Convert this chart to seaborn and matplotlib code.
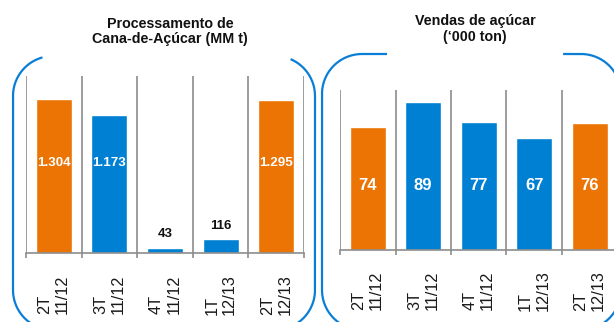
import numpy as np
import matplotlib
matplotlib.use("Agg")
import matplotlib.pyplot as plt
import seaborn as sns
from matplotlib.lines import Line2D
from matplotlib.transforms import Affine2D

# ---- data ----
periods = ["2T\n11/12", "3T\n11/12", "4T\n11/12", "1T\n12/13", "2T\n12/13"]
crushing = [1304, 1173, 43, 116, 1295]          # cane crushed, MM t (thousands)
sugar_sales = [74, 89, 77, 67, 76]              # sugar sold, '000 ton
title_crushing = "Processamento de\nCana-de-Açúcar (MM t)"
title_sales = "Vendas de açúcar\n(‘000 ton)"

# ---- style ----
ORANGE = "#EB7405"
BLUE = "#0080D2"
FRAME = "#0A7ED6"
GRID = "#8C8C8C"
bar_colors = [ORANGE, BLUE, BLUE, BLUE, ORANGE]

W, H = 614, 322
sns.set_theme(style="white")
plt.rcParams["font.family"] = ["Liberation Sans", "DejaVu Sans"]

fig = plt.figure(figsize=(W / 100, H / 100), dpi=100)
fig.patch.set_facecolor("white")

# pixel -> figure transform (y measured from the top)
px = Affine2D().scale(1 / W, -1 / H).translate(0, 1) + fig.transFigure


def add_axes_px(x0, top, x1, bottom):
    return fig.add_axes([x0 / W, 1 - bottom / H, (x1 - x0) / W, (bottom - top) / H])


def style_axis(ax, ymax, pad):
    ax.set_xlim(-0.5, 4.5)
    ax.set_ylim(0, ymax)
    bounds = np.arange(-0.5, 5.0, 1.0)
    for b in bounds:
        ax.axvline(b, color=GRID, lw=1.2, zorder=0.5)
    sns.despine(ax=ax, left=True)
    ax.spines["bottom"].set_color(GRID)
    ax.spines["bottom"].set_linewidth(1.2)
    ax.set_yticks([])
    ax.set_xticks(bounds)
    ax.set_xticklabels([])
    ax.tick_params(axis="x", which="major", length=3.6, width=1.2, color=GRID,
                   direction="out", bottom=True)
    ax.set_xticks(range(len(periods)), labels=periods, minor=True)
    ax.tick_params(axis="x", which="minor", length=0, pad=pad, labelsize=11.8,
                   labelcolor="#1A1A1A", bottom=True)
    for lbl in ax.get_xticklabels(minor=True):
        lbl.set_rotation(90)
        lbl.set_ha("center")
        lbl.set_va("top")
        lbl.set_multialignment("left")
        lbl.set_linespacing(1.22)
    ax.set_xlabel("")
    ax.set_ylabel("")
    ax.set_facecolor("none")


def fmt_br(v):
    return f"{v:,}".replace(",", ".")


# ---- left panel: cane crushing ----
ax1 = add_axes_px(26, 76, 304, 253)
sns.barplot(x=periods, y=crushing, hue=periods, palette=bar_colors, legend=False,
            width=0.65, saturation=1, ax=ax1, zorder=2)
style_axis(ax1, 1500, 15.5)
for i, v in enumerate(crushing):
    if v > 300:
        ax1.text(i, 765, fmt_br(v), color="white", ha="center", va="center",
                 fontsize=9.6, fontweight="bold", zorder=3)
    else:
        ax1.annotate(fmt_br(v), (i, v), xytext=(0, 13.5), textcoords="offset pixels",
                     ha="center", va="center", fontsize=9.5, fontweight="bold",
                     color="#111111", zorder=3)

# ---- right panel: sugar sales ----
ax2 = add_axes_px(340, 90, 617.5, 250)
sns.barplot(x=periods, y=sugar_sales, hue=periods, palette=bar_colors, legend=False,
            width=0.65, saturation=1, ax=ax2, zorder=2)
style_axis(ax2, 96, 14.5)
for i, v in enumerate(sugar_sales):
    ax2.text(i, 38.5, str(v), color="white", ha="center", va="center",
             fontsize=12, fontweight="bold", zorder=3)

# ---- titles ----
fig.text(170 / W, 1 - 31.5 / H, title_crushing, ha="center", va="center",
         fontsize=10.3, fontweight="bold", color="#111111", linespacing=1.15)
fig.text(475 / W, 1 - 29 / H, title_sales, ha="center", va="center",
         fontsize=10.3, fontweight="bold", color="#111111", linespacing=1.15)


# ---- rounded frames with an opening at the top for the titles ----
def rounded_frame(L, T, R, B, r, g0, g1, n=60):
    pts = []
    cx = (g0 + g1) / 2
    pts.append(np.column_stack([np.linspace(cx, R - r, n), np.full(n, T)]))
    corners = [((R - r, T + r), -90, 0), ((R - r, B - r), 0, 90),
               ((L + r, B - r), 90, 180), ((L + r, T + r), 180, 270)]
    edges = [((R, T + r), (R, B - r)), ((R - r, B), (L + r, B)),
             ((L, B - r), (L, T + r)), ((L + r, T), (cx, T))]
    for (c, a0, a1), (p0, p1) in zip(corners, edges):
        th = np.radians(np.linspace(a0, a1, n))
        pts.append(np.column_stack([c[0] + r * np.cos(th), c[1] + r * np.sin(th)]))
        pts.append(np.column_stack([np.linspace(p0[0], p1[0], n),
                                    np.linspace(p0[1], p1[1], n)]))
    xy = np.vstack(pts)
    keep = ~((xy[:, 1] < T + 8) & (xy[:, 0] > g0) & (xy[:, 0] < g1))
    xy = xy[keep]
    return xy[:, 0], xy[:, 1]


for frame in [(13, 56, 315, 330, 40, 43, 290), (322, 54, 621, 330, 40, 388, 563)]:
    fx, fy = rounded_frame(*frame)
    fig.add_artist(Line2D(fx, fy, transform=px, color=FRAME, lw=1.6,
                          solid_capstyle="butt", clip_on=False))

fig.savefig("out.png", dpi=100)
